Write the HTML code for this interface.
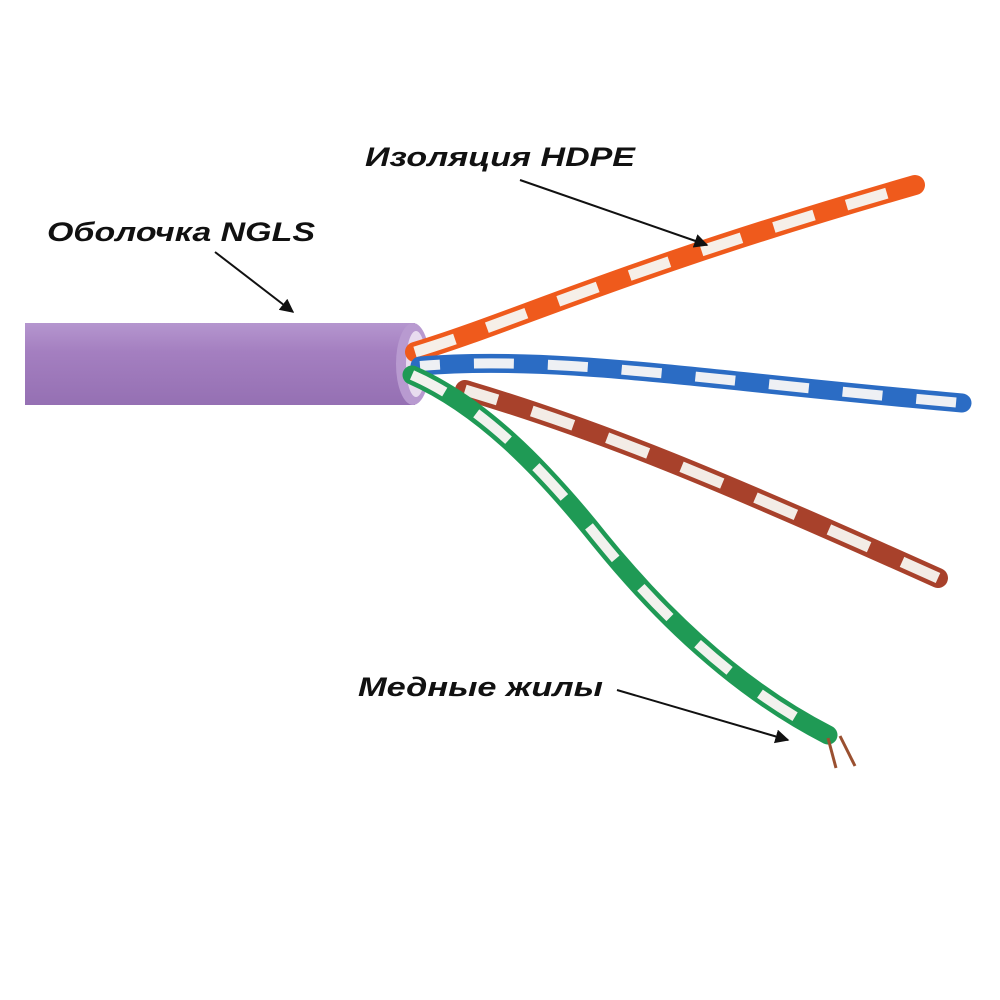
<!DOCTYPE html>
<html><head><meta charset="utf-8"><style>
html,body{margin:0;padding:0;background:#fff;}
svg{display:block}
text{font-family:"Liberation Sans",sans-serif;font-weight:bold;font-style:italic;font-size:27px;fill:#111}
</style></head><body>
<svg width="1000" height="1000" viewBox="0 0 1000 1000" xmlns="http://www.w3.org/2000/svg">
<defs>
<linearGradient id="pg" x1="0" y1="0" x2="0" y2="1">
<stop offset="0" stop-color="#b596cf"/><stop offset="0.35" stop-color="#a47fc0"/><stop offset="1" stop-color="#9570b3"/>
</linearGradient>
<marker id="ah" viewBox="0 0 10 10" refX="9" refY="5" markerWidth="7" markerHeight="7" orient="auto"><path d="M0,0 L10,5 L0,10 z" fill="#111"/></marker>
</defs>
<rect x="25" y="323" width="390" height="82" fill="url(#pg)"/>
<ellipse cx="413" cy="364" rx="17" ry="41" fill="#b89ad0"/>
<ellipse cx="416" cy="364" rx="10" ry="33" fill="#e8dcef"/>
<!-- orange -->
<path d="M415,352 C520,320 620,270 915,185" stroke="#ef5a1c" stroke-width="20" fill="none" stroke-linecap="round"/>
<path d="M415,352 C520,320 620,270 915,185" stroke="#f6efe8" stroke-width="11" fill="none" stroke-dasharray="42 34"/>
<!-- blue -->
<path d="M420,366 C560,355 700,380 962,403" stroke="#2b6cc4" stroke-width="19" fill="none" stroke-linecap="round"/>
<path d="M420,366 C560,355 700,380 962,403" stroke="#eef0f4" stroke-width="10" fill="none" stroke-dasharray="40 34" stroke-dashoffset="20"/>
<!-- brown -->
<path d="M465,390 C600,430 720,480 938,578" stroke="#a8412b" stroke-width="20" fill="none" stroke-linecap="round"/>
<path d="M465,390 C600,430 720,480 938,578" stroke="#f3ece6" stroke-width="11" fill="none" stroke-dasharray="44 36" stroke-dashoffset="10"/>
<!-- green -->
<path d="M412,375 C480,405 540,465 600,540 C665,620 740,690 828,735" stroke="#1f9a55" stroke-width="19" fill="none" stroke-linecap="round"/>
<path d="M412,375 C480,405 540,465 600,540 C665,620 740,690 828,735" stroke="#f2f2ee" stroke-width="10" fill="none" stroke-dasharray="42 38" stroke-dashoffset="5"/>
<line x1="828" y1="738" x2="836" y2="768" stroke="#9a5030" stroke-width="3"/>
<line x1="840" y1="736" x2="855" y2="766" stroke="#9a5030" stroke-width="3"/>
<text x="47" y="241" textLength="268" lengthAdjust="spacingAndGlyphs">Оболочка NGLS</text>
<text x="365" y="166" textLength="270" lengthAdjust="spacingAndGlyphs">Изоляция HDPE</text>
<text x="358" y="696" textLength="245" lengthAdjust="spacingAndGlyphs">Медные жилы</text>
<line x1="215" y1="252" x2="293" y2="312" stroke="#111" stroke-width="2" marker-end="url(#ah)"/>
<line x1="520" y1="180" x2="707" y2="245" stroke="#111" stroke-width="2" marker-end="url(#ah)"/>
<line x1="617" y1="690" x2="788" y2="740" stroke="#111" stroke-width="2" marker-end="url(#ah)"/>
</svg>
</body></html>
